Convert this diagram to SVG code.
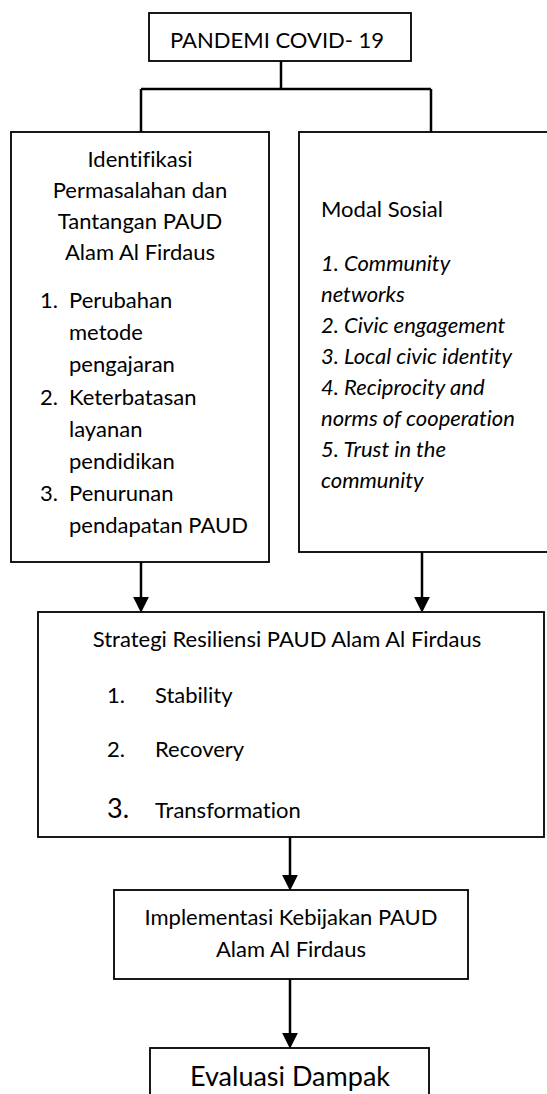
<svg xmlns="http://www.w3.org/2000/svg" width="547" height="1094" viewBox="0 0 547 1094">
<style>
.box{fill:#fff;stroke:#000;stroke-width:1.8}
.con{fill:none;stroke:#000;stroke-width:2.5}
text{font-family:Lato,"Liberation Sans",sans-serif;font-size:22px;fill:#000;font-variant-ligatures:none;font-feature-settings:"liga" 0,"clig" 0}
.c{text-anchor:middle}
.i{font-style:italic}
</style>
<defs>
<marker id="ah" markerUnits="userSpaceOnUse" markerWidth="16" markerHeight="16" viewBox="0 0 15 15" refX="3" refY="7.5" orient="auto">
<path d="M0,0 L15,7.5 L0,15 Z" fill="#000"/>
</marker>
</defs>
<rect width="547" height="1094" fill="#fff"/>
<g id="connectors">
<path class="con" d="M281,61 V89 M141,89 H431 M141,89 V132 M431,89 V132"/>
<path class="con" d="M141,562 V600" marker-end="url(#ah)"/>
<path class="con" d="M422,552 V600" marker-end="url(#ah)"/>
<path class="con" d="M290,837 V878" marker-end="url(#ah)"/>
<path class="con" d="M290,979 V1036" marker-end="url(#ah)"/>
</g>
<g id="pandemi">
<rect class="box" x="149" y="13" width="262" height="48"/>
<text x="170" y="48">PANDEMI COVID- 19</text>
</g>
<g id="identifikasi">
<rect class="box" x="11" y="132" width="258" height="430"/>
<text class="c" x="140" y="167">Identifikasi</text>
<text class="c" x="140" y="198">Permasalahan dan</text>
<text class="c" x="140" y="229">Tantangan PAUD</text>
<text class="c" x="140" y="260">Alam Al Firdaus</text>
<text x="40" y="308">1.</text><text x="69" y="308">Perubahan</text>
<text x="69" y="340">metode</text>
<text x="69" y="372">pengajaran</text>
<text x="40" y="405">2.</text><text x="69" y="405">Keterbatasan</text>
<text x="69" y="437">layanan</text>
<text x="69" y="469">pendidikan</text>
<text x="40" y="501">3.</text><text x="69" y="501">Penurunan</text>
<text x="69" y="533">pendapatan PAUD</text>
</g>
<g id="modal">
<rect class="box" x="299" y="132" width="270" height="420"/>
<text x="321" y="217">Modal Sosial</text>
<text class="i" x="321" y="271">1. Community</text>
<text class="i" x="321" y="302">networks</text>
<text class="i" x="321" y="333">2. Civic engagement</text>
<text class="i" x="321" y="364">3. Local civic identity</text>
<text class="i" x="321" y="395">4. Reciprocity and</text>
<text class="i" x="321" y="426">norms of cooperation</text>
<text class="i" x="321" y="457">5. Trust in the</text>
<text class="i" x="321" y="488">community</text>
</g>
<g id="strategi">
<rect class="box" x="38" y="612" width="506" height="225"/>
<text class="c" x="287" y="647">Strategi Resiliensi PAUD Alam Al Firdaus</text>
<text x="107" y="703">1.</text><text x="155" y="703">Stability</text>
<text x="107" y="757">2.</text><text x="155" y="757">Recovery</text>
<text x="107" y="818" style="font-size:27px">3.</text><text x="155" y="818">Transformation</text>
</g>
<g id="implementasi">
<rect class="box" x="114" y="890" width="354" height="89"/>
<text class="c" x="291" y="925">Implementasi Kebijakan PAUD</text>
<text class="c" x="291" y="957">Alam Al Firdaus</text>
</g>
<g id="evaluasi">
<rect class="box" x="150" y="1048" width="279" height="70"/>
<text class="c" x="290" y="1086" style="font-size:27px">Evaluasi Dampak</text>
</g>
</svg>
